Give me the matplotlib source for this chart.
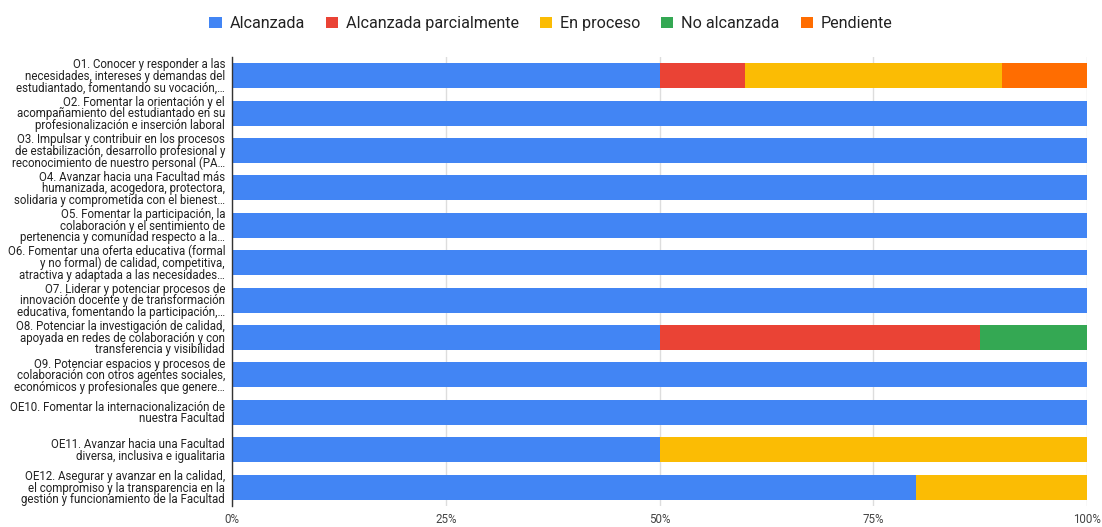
import matplotlib.pyplot as plt
import numpy as np

plt.rcParams['font.family'] = ['Roboto', 'DejaVu Sans']

objetivos = [
    "O1. Conocer y responder a las\nnecesidades, intereses y demandas del\nestudiantado, fomentando su vocación,…",
    "O2. Fomentar la orientación y el\nacompañamiento del estudiantado en su\nprofesionalización e inserción laboral",
    "O3. Impulsar y contribuir en los procesos\nde estabilización, desarrollo profesional y\nreconocimiento de nuestro personal (PA…",
    "O4. Avanzar hacia una Facultad más\nhumanizada, acogedora, protectora,\nsolidaria y comprometida con el bienest…",
    "O5. Fomentar la participación, la\ncolaboración y el sentimiento de\npertenencia y comunidad respecto a la…",
    "O6. Fomentar una oferta educativa (formal\ny no formal) de calidad, competitiva,\natractiva y adaptada a las necesidades…",
    "O7. Liderar y potenciar procesos de\ninnovación docente y de transformación\neducativa, fomentando la participación,…",
    "O8. Potenciar la investigación de calidad,\napoyada en redes de colaboración y con\ntransferencia y visibilidad",
    "O9. Potenciar espacios y procesos de\ncolaboración con otros agentes sociales,\neconómicos y profesionales que genere…",
    "OE10. Fomentar la internacionalización de\nnuestra Facultad",
    "OE11. Avanzar hacia una Facultad\ndiversa, inclusiva e igualitaria",
    "OE12. Asegurar y avanzar en la calidad,\nel compromiso y la transparencia en la\ngestión y funcionamiento de la Facultad",
]

estados = ["Alcanzada", "Alcanzada parcialmente", "En proceso", "No alcanzada", "Pendiente"]
colores = ["#4285F4", "#EA4335", "#FBBC04", "#34A853", "#FF6D01"]

# proporciones por objetivo (%)
alcanzada =   [50, 100, 100, 100, 100, 100, 100, 50, 100, 100, 50, 80]
parcial =     [10, 0, 0, 0, 0, 0, 0, 37.5, 0, 0, 0, 0]
en_proceso =  [30, 0, 0, 0, 0, 0, 0, 0, 0, 0, 50, 20]
no_alcanz =   [0, 0, 0, 0, 0, 0, 0, 12.5, 0, 0, 0, 0]
pendiente =   [10, 0, 0, 0, 0, 0, 0, 0, 0, 0, 0, 0]

series = [alcanzada, parcial, en_proceso, no_alcanz, pendiente]

fig = plt.figure(figsize=(11.02, 5.27), dpi=100)
ax = fig.add_axes([0.2105, 0.04, 0.776, 0.852])

y = np.arange(len(objetivos))
left = np.zeros(len(objetivos))
for nombre, vals, c in zip(estados, series, colores):
    vals = np.array(vals, dtype=float)
    ax.barh(y, vals, left=left, height=0.67, color=c, label=nombre, zorder=2)
    left += vals

ax.set_ylim(len(objetivos) - 0.5, -0.5)
ax.set_xlim(0, 100)
ax.set_yticks(y)
ax.set_yticklabels(objetivos, fontsize=8.3, color="#222222", linespacing=0.86)
ax.set_xticks([0, 25, 50, 75, 100])
ax.set_xticklabels(["0%", "25%", "50%", "75%", "100%"], fontsize=8.3, color="#444444")
ax.tick_params(axis='both', length=0)
ax.tick_params(axis='y', pad=5)
ax.tick_params(axis='x', pad=5)
ax.grid(axis='x', color="#dddddd", linewidth=1, zorder=0)
for s in ['top', 'right', 'bottom']:
    ax.spines[s].set_visible(False)
ax.spines['left'].set_color("#333333")
ax.spines['left'].set_linewidth(1)

fig.legend(loc='upper center', bbox_to_anchor=(0.5, 0.997), ncol=5, frameon=False,
           fontsize=11.6, handlelength=0.75, handleheight=0.75, handletextpad=0.5,
           columnspacing=1.3, labelcolor="#222222")

fig.savefig("out.png", dpi=100)
